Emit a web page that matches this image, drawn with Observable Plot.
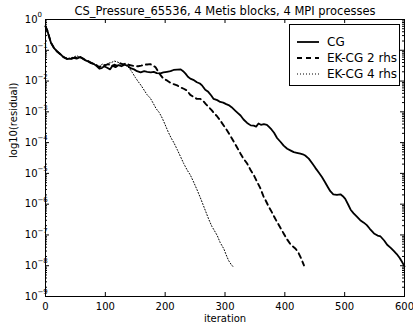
<!DOCTYPE html>
<html><head><meta charset="utf-8">
<script src="https://cdn.jsdelivr.net/npm/d3@7"></script>
<script src="https://cdn.jsdelivr.net/npm/@observablehq/plot@0.6"></script>
<style>
body{margin:0;background:#fff;}
#wrap{position:relative;width:413px;height:323px;font-family:"DejaVu Sans",sans-serif;}
#legend{position:absolute;left:289px;top:24px;width:111px;height:62px;border:1px solid #000;background:#fff;box-sizing:border-box;}
.row{position:absolute;left:0;height:16px;width:100%;}
.row svg{position:absolute;left:7px;top:0;}
.row span{position:absolute;left:37px;top:0px;font-size:12px;line-height:16px;color:#000;white-space:nowrap;}
</style></head>
<body><div id="wrap"></div>
<script>
const title = "CS_Pressure_65536, 4 Metis blocks, 4 MPI processes";
const xLabel = "iteration";
const yLabel = "log10(residual)";
const seriesNames = ["CG", "EK-CG 2 rhs", "EK-CG 4 rhs"];
const xTicks = [0, 100, 200, 300, 400, 500, 600];
const yDecades = [0, -1, -2, -3, -4, -5, -6, -7, -8, -9];

const cgIter = [0,3,6,9,14,20,25,30,36,42,47,52,58,63,67,72,76,81,86,90,94,98,103,108,112,117,122,127,132,137,142,148,153,159,165,170,176,181,186,192,197,203,209,214,220,226,230,234,238,242,247,253,258,262,267,272,277,281,287,292,297,302,306,311,317,322,326,331,337,343,348,352,356,360,365,370,374,378,382,387,393,398,404,410,415,420,426,430,434,440,446,451,457,462,467,472,476,481,487,493,497,501,506,510,515,520,526,532,537,542,549,555,560,566,571,577,582,587,592,596,600];
const cgLog = [-0.22,-0.36,-0.55,-0.75,-0.92,-1.05,-1.13,-1.22,-1.28,-1.28,-1.25,-1.27,-1.22,-1.28,-1.33,-1.37,-1.42,-1.45,-1.52,-1.6,-1.58,-1.52,-1.57,-1.62,-1.5,-1.55,-1.48,-1.52,-1.47,-1.5,-1.58,-1.62,-1.68,-1.72,-1.68,-1.7,-1.72,-1.7,-1.74,-1.75,-1.72,-1.7,-1.68,-1.64,-1.63,-1.62,-1.68,-1.76,-1.86,-1.92,-1.96,-2.04,-2.08,-2.15,-2.28,-2.35,-2.47,-2.58,-2.62,-2.68,-2.7,-2.75,-2.78,-2.85,-2.96,-3.05,-3.12,-3.25,-3.36,-3.44,-3.45,-3.48,-3.38,-3.42,-3.4,-3.42,-3.5,-3.58,-3.68,-3.85,-3.98,-4.1,-4.2,-4.26,-4.31,-4.33,-4.36,-4.38,-4.42,-4.52,-4.68,-4.82,-4.98,-5.12,-5.28,-5.45,-5.58,-5.68,-5.7,-5.68,-5.74,-5.83,-6.02,-6.18,-6.3,-6.4,-6.52,-6.6,-6.68,-6.8,-6.95,-7.02,-7.05,-7.18,-7.32,-7.42,-7.52,-7.62,-7.75,-7.88,-8.02];

const ek2Iter = [0,3,6,9,14,20,25,30,36,42,47,52,58,63,67,72,76,81,86,90,95,100,105,110,115,120,125,130,135,140,145,150,155,160,165,170,175,180,184,188,192,197,203,209,214,220,225,231,236,242,248,253,259,264,268,273,278,282,287,292,298,304,309,315,320,326,331,337,343,348,353,359,365,368,373,378,382,387,393,398,404,410,415,418,422,427,432];
const ek2Log = [-0.22,-0.36,-0.55,-0.75,-0.92,-1.05,-1.13,-1.22,-1.28,-1.28,-1.25,-1.24,-1.22,-1.27,-1.32,-1.36,-1.4,-1.44,-1.5,-1.55,-1.5,-1.48,-1.45,-1.52,-1.47,-1.5,-1.43,-1.46,-1.42,-1.48,-1.5,-1.52,-1.52,-1.5,-1.47,-1.46,-1.45,-1.5,-1.55,-1.68,-1.8,-1.92,-1.98,-2.06,-2.1,-2.14,-2.2,-2.25,-2.3,-2.45,-2.52,-2.58,-2.58,-2.66,-2.75,-2.85,-2.95,-3.05,-3.15,-3.28,-3.45,-3.62,-3.78,-3.98,-4.15,-4.36,-4.52,-4.68,-4.9,-5.05,-5.25,-5.48,-5.78,-5.88,-6.08,-6.25,-6.4,-6.58,-6.78,-6.95,-7.15,-7.32,-7.4,-7.45,-7.55,-7.75,-7.99];

const ek4Iter = [0,3,6,9,14,20,25,30,36,42,47,52,58,63,67,72,76,81,86,90,95,100,105,110,115,120,125,130,135,140,145,150,155,160,165,170,175,180,185,190,195,200,205,210,215,220,226,231,237,242,248,253,259,264,268,273,278,282,287,292,298,302,306,310,313];
const ek4Log = [-0.22,-0.36,-0.55,-0.75,-0.92,-1.05,-1.13,-1.2,-1.26,-1.25,-1.22,-1.18,-1.22,-1.28,-1.32,-1.36,-1.4,-1.44,-1.48,-1.52,-1.45,-1.5,-1.42,-1.4,-1.35,-1.38,-1.42,-1.45,-1.5,-1.58,-1.72,-1.88,-2.02,-2.15,-2.3,-2.45,-2.55,-2.72,-2.9,-3.02,-3.2,-3.42,-3.65,-3.85,-4.02,-4.22,-4.47,-4.68,-4.9,-5.05,-5.3,-5.52,-5.8,-6.05,-6.25,-6.5,-6.72,-6.85,-7.02,-7.25,-7.45,-7.65,-7.83,-7.95,-8.02];

const mk = (it, lg) => it.map((x, i) => ({x, y: Math.pow(10, lg[i])}));
const cg = mk(cgIter, cgLog), ek2 = mk(ek2Iter, ek2Log), ek4 = mk(ek4Iter, ek4Log);

const mL = 45, mR = 9, mT = 19, mB = 27, W = 413, H = 323;
const pw = W - mL - mR, ph = H - mT - mB;
const majorY = yDecades.map(d => Math.pow(10, d));
const minorY = [];
for (let d = -9; d < 0; d++) for (let k = 2; k <= 9; k++) minorY.push(k * Math.pow(10, d));
const font = "DejaVu Sans";

const chart = Plot.plot({
  width: W, height: H,
  marginLeft: mL, marginRight: mR, marginTop: mT, marginBottom: mB,
  style: {fontFamily: font, background: "#fff", color: "#000"},
  x: {domain: [0, 600], axis: null},
  y: {type: "log", domain: [1e-9, 1], axis: null},
  marks: [
    Plot.line(ek4, {x: "x", y: "y", stroke: "#000", strokeWidth: 1, strokeDasharray: "1,2"}),
    Plot.line(ek2, {x: "x", y: "y", stroke: "#000", strokeWidth: 1.9, strokeDasharray: "5,4"}),
    Plot.line(cg, {x: "x", y: "y", stroke: "#000", strokeWidth: 1.8}),
    Plot.frame({stroke: "#000", strokeWidth: 1}),
    // inward ticks
    Plot.ruleX(xTicks, {x: d => d, insetTop: ph - 4, stroke: "#000"}),
    Plot.ruleX(xTicks, {x: d => d, insetBottom: ph - 4, stroke: "#000"}),
    Plot.ruleY(majorY, {y: d => d, insetRight: pw - 4, stroke: "#000"}),
    Plot.ruleY(majorY, {y: d => d, insetLeft: pw - 4, stroke: "#000"}),
    Plot.ruleY(minorY, {y: d => d, insetRight: pw - 2, stroke: "#000"}),
    Plot.ruleY(minorY, {y: d => d, insetLeft: pw - 2, stroke: "#000"}),
    // x tick labels
    Plot.text(xTicks, {x: d => d, frameAnchor: "bottom", lineAnchor: "middle", dy: 10, text: d => String(d), fontSize: 10, fill: "#000"}),
    // y tick labels 10^k
    Plot.text(yDecades, {y: d => Math.pow(10, d), frameAnchor: "left", dx: -8, text: () => "10", textAnchor: "end", fontSize: 10, fill: "#000"}),
    Plot.text(yDecades, {y: d => Math.pow(10, d), frameAnchor: "left", dx: -8, dy: -4.5, text: d => d === 0 ? "0" : "\u2212" + (-d), textAnchor: "start", fontSize: 7, fill: "#000"}),
    // titles
    Plot.text([title], {frameAnchor: "top", lineAnchor: "middle", dy: -8, fontSize: 11.5, fill: "#000"}),
    Plot.text([xLabel], {frameAnchor: "bottom", lineAnchor: "middle", dy: 22, fontSize: 10, fill: "#000"}),
    Plot.text([yLabel], {frameAnchor: "left", dx: -32, rotate: -90, fontSize: 10, fill: "#000"})
  ]
});

const wrap = document.getElementById("wrap");
wrap.appendChild(chart);

const legend = document.createElement("div");
legend.id = "legend";
const styles = [{dash: "", w: 1.8}, {dash: "5,4", w: 1.9}, {dash: "1,2", w: 1}];
seriesNames.forEach((name, i) => {
  const row = document.createElement("div");
  row.className = "row";
  row.style.top = (9 + i * 16) + "px";
  row.innerHTML = `<svg width="24" height="16"><line x1="0" x2="22" y1="8" y2="8" stroke="#000" stroke-width="${styles[i].w}" ${styles[i].dash ? `stroke-dasharray="${styles[i].dash}"` : ""}/></svg><span>${name}</span>`;
  legend.appendChild(row);
});
wrap.appendChild(legend);
</script>
</body></html>
